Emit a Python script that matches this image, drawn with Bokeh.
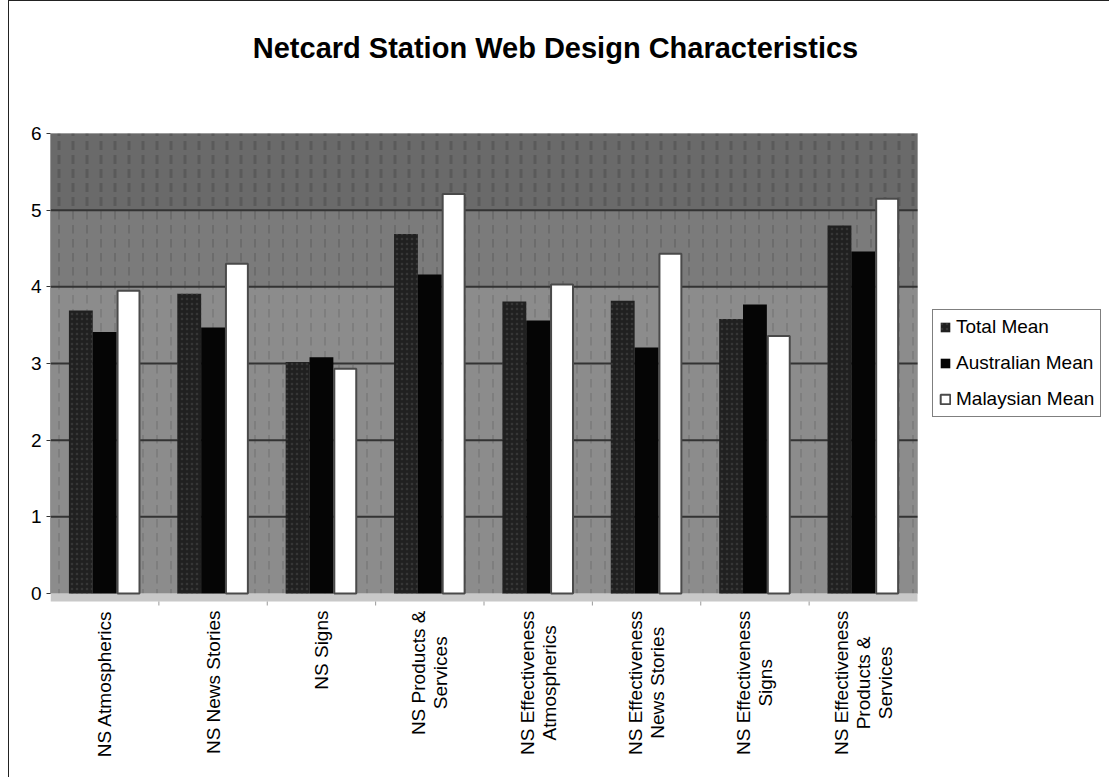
from math import pi

from bokeh.core.properties import value
from bokeh.embed import file_html
from bokeh.models import (BoxAnnotation, ColumnDataSource, FixedTicker, Label,
                          Legend, LegendItem, Range1d)
from bokeh.plotting import figure
from bokeh.resources import INLINE
from bokeh.transform import dodge

# ---- data -----------------------------------------------------------------
categories = [
    "NS Atmospherics",
    "NS News Stories",
    "NS Signs",
    "NS Products &\nServices",
    "NS Effectiveness\nAtmospherics",
    "NS Effectiveness\nNews Stories",
    "NS Effectiveness\nSigns",
    "NS Effectiveness\nProducts &\nServices",
]
total_mean = [3.69, 3.91, 3.02, 4.69, 3.81, 3.82, 3.58, 4.80]
australian_mean = [3.41, 3.47, 3.08, 4.16, 3.56, 3.21, 3.77, 4.46]
malaysian_mean = [3.95, 4.30, 2.93, 5.21, 4.03, 4.43, 3.36, 5.15]
series_names = ["Total Mean", "Australian Mean", "Malaysian Mean"]
y_ticks = [0, 1, 2, 3, 4, 5, 6]

TITLE = "Netcard Station Web Design Characteristics"
FONT = "Liberation Sans"
LABEL_PX = 19

# ---- page geometry (pixels) -------------------------------------------------
PAGE_W, PAGE_H = 1110, 778
EDGE_X, EDGE_Y = 9, 1             # thin page frame on the left and top
AREA_L, AREA_R = 50, 917          # plot area, horizontally
AREA_T, AREA_B = 133, 593         # plot area, vertically
n = len(categories)
px_x = (AREA_R - AREA_L) / n
px_y = (AREA_B - AREA_T) / (y_ticks[-1] - y_ticks[0])

# Advance widths (per 1000 em) of Liberation Sans, used to centre the
# stacked lines of each rotated category label.
ADVANCE = {' ': 278, '&': 667, 'A': 667, 'E': 667, 'N': 722, 'P': 667, 'S': 667,
           'a': 556, 'c': 500, 'd': 556, 'e': 556, 'f': 278, 'g': 556, 'h': 556,
           'i': 222, 'l': 222, 'm': 833, 'n': 556, 'o': 556, 'p': 556, 'r': 333,
           's': 500, 't': 278, 'u': 556, 'v': 500, 'w': 722, 'y': 500}


def text_width(s, size):
    return sum(ADVANCE.get(ch, 556) for ch in s) * size / 1000.0


source = ColumnDataSource(dict(
    x=[i + 0.5 for i in range(n)],
    total=total_mean,
    aus=australian_mean,
    malay=malaysian_mean,
))

# ---- figure: the frame spans everything right of the value axis ------------
x_range = Range1d(0, n + (PAGE_W - AREA_R) / px_x)
y_range = Range1d(y_ticks[0] - (PAGE_H - AREA_B) / px_y,
                  y_ticks[-1] + (AREA_T - EDGE_Y) / px_y)

p = figure(
    width=PAGE_W - EDGE_X, height=PAGE_H - EDGE_Y,
    x_range=x_range, y_range=y_range,
    x_axis_location=None, y_axis_location="left",
    output_backend="svg", toolbar_location=None,
    min_border_left=AREA_L - EDGE_X, min_border_right=0,
    min_border_top=0, min_border_bottom=0,
    background_fill_color="white", border_fill_color="white",
    outline_line_color=None,
)
p.styles = {"margin-left": "8px", "border-left": "1px solid #222222",
            "border-top": "1px solid #222222"}
p.xgrid.visible = False
p.ygrid.visible = False

# mottled backdrop of the plot area, darker towards the top
band_style = dict(fill_alpha=1.0, hatch_pattern=":", hatch_scale=14,
                  line_color=None, level="underlay", left=0, right=n)
p.add_layout(BoxAnnotation(bottom=0, top=4, fill_color="#8c8c8c",
                           hatch_color="#5e5e5e", hatch_alpha=0.3,
                           hatch_weight=2, **band_style))
p.add_layout(BoxAnnotation(bottom=4, top=5, fill_color="#7b7b7b",
                           hatch_color="#505050", hatch_alpha=0.35,
                           hatch_weight=2, **band_style))
p.add_layout(BoxAnnotation(bottom=5, top=6, fill_color="#6a6a6a",
                           hatch_color="#404040", hatch_alpha=0.4,
                           hatch_weight=3, **band_style))
p.add_layout(BoxAnnotation(left=0, right=n, bottom=0, top=6, fill_color=None,
                           line_color="#6a6a6a", line_width=1, level="underlay"))
# light floor strip under the bars
p.add_layout(BoxAnnotation(left=0, right=n, bottom=-8 / px_y, top=0,
                           fill_color="#c8c8c8", fill_alpha=1.0,
                           line_color=None, level="underlay"))

# horizontal gridlines across the plot area
grid_y = y_ticks[1:-1]
p.segment(x0=[0] * len(grid_y), x1=[n] * len(grid_y), y0=grid_y, y1=grid_y,
          line_color="#333333", line_width=2)
# category boundary ticks under the floor strip
bounds = list(range(1, n))
p.segment(x0=bounds, x1=bounds, y0=[-8 / px_y] * len(bounds),
          y1=[-12 / px_y] * len(bounds), line_color="#9a9a9a", line_width=1)

# ---- bars -----------------------------------------------------------------
bw = 0.22
r_total = p.vbar(x=dodge("x", -bw, range=p.x_range), top="total", bottom=0,
                 width=bw, source=source, fill_color="#202020", line_color=None,
                 hatch_pattern=".", hatch_color="#444444", hatch_alpha=0.6,
                 hatch_scale=5)
r_aus = p.vbar(x=dodge("x", 0.0, range=p.x_range), top="aus", bottom=0,
               width=bw, source=source, fill_color="#050505", line_color=None)
r_malay = p.vbar(x=dodge("x", bw, range=p.x_range), top="malay", bottom=0,
                 width=bw * 0.92, source=source, fill_color="white",
                 line_color="#4a4a4a", line_width=2)

# ---- value axis -------------------------------------------------------------
p.yaxis.ticker = FixedTicker(ticks=y_ticks)
p.yaxis.bounds = (y_ticks[0], y_ticks[-1])
p.yaxis.axis_line_color = "#9a9a9a"
p.yaxis.major_tick_line_color = "#333333"
p.yaxis.major_tick_out = 4
p.yaxis.major_tick_in = 0
p.yaxis.minor_tick_line_color = None
p.yaxis.major_label_standoff = 5
p.yaxis.major_label_text_font = FONT
p.yaxis.major_label_text_font_size = f"{LABEL_PX}px"
p.yaxis.major_label_text_color = "black"

# ---- rotated category labels: lines centred on each other, hung below axis --
lx, ly, lt, loff = [], [], [], []
line_step = 22
for i, cat in enumerate(categories):
    lines = cat.split("\n")
    wmax = max(text_width(s, LABEL_PX) for s in lines)
    for j, s in enumerate(lines):
        lx.append(i + 0.5)
        ly.append(-(17 + wmax / 2.0) / px_y)
        lt.append(s)
        loff.append((j - (len(lines) - 1) / 2.0) * line_step)
p.text(x=lx, y=ly, text=lt, x_offset=loff, angle=pi / 2,
       text_align="center", text_baseline="middle",
       text_font=value(FONT), text_font_size=f"{LABEL_PX}px", text_color="black")

# ---- title ----------------------------------------------------------------
p.add_layout(Label(
    x=PAGE_W / 2 - AREA_L, y=PAGE_H - 47, x_units="screen", y_units="screen",
    text=TITLE, text_align="center", text_baseline="middle", text_font=FONT,
    text_font_size="29px", text_font_style="bold", text_color="black",
))

# ---- legend ---------------------------------------------------------------
legend = Legend(
    items=[LegendItem(label=series_names[0], renderers=[r_total]),
           LegendItem(label=series_names[1], renderers=[r_aus]),
           LegendItem(label=series_names[2], renderers=[r_malay])],
    location=(932 - AREA_L, PAGE_H - 417),
    border_line_color="black", border_line_width=1,
    background_fill_color="white", background_fill_alpha=1.0,
    label_text_font=FONT, label_text_font_size=f"{LABEL_PX}px",
    label_text_color="black",
    glyph_width=12, glyph_height=12, label_height=22, label_standoff=5,
    padding=6, spacing=14, margin=0,
)
p.add_layout(legend)

open("out.html", "w").write(file_html(p, INLINE))
